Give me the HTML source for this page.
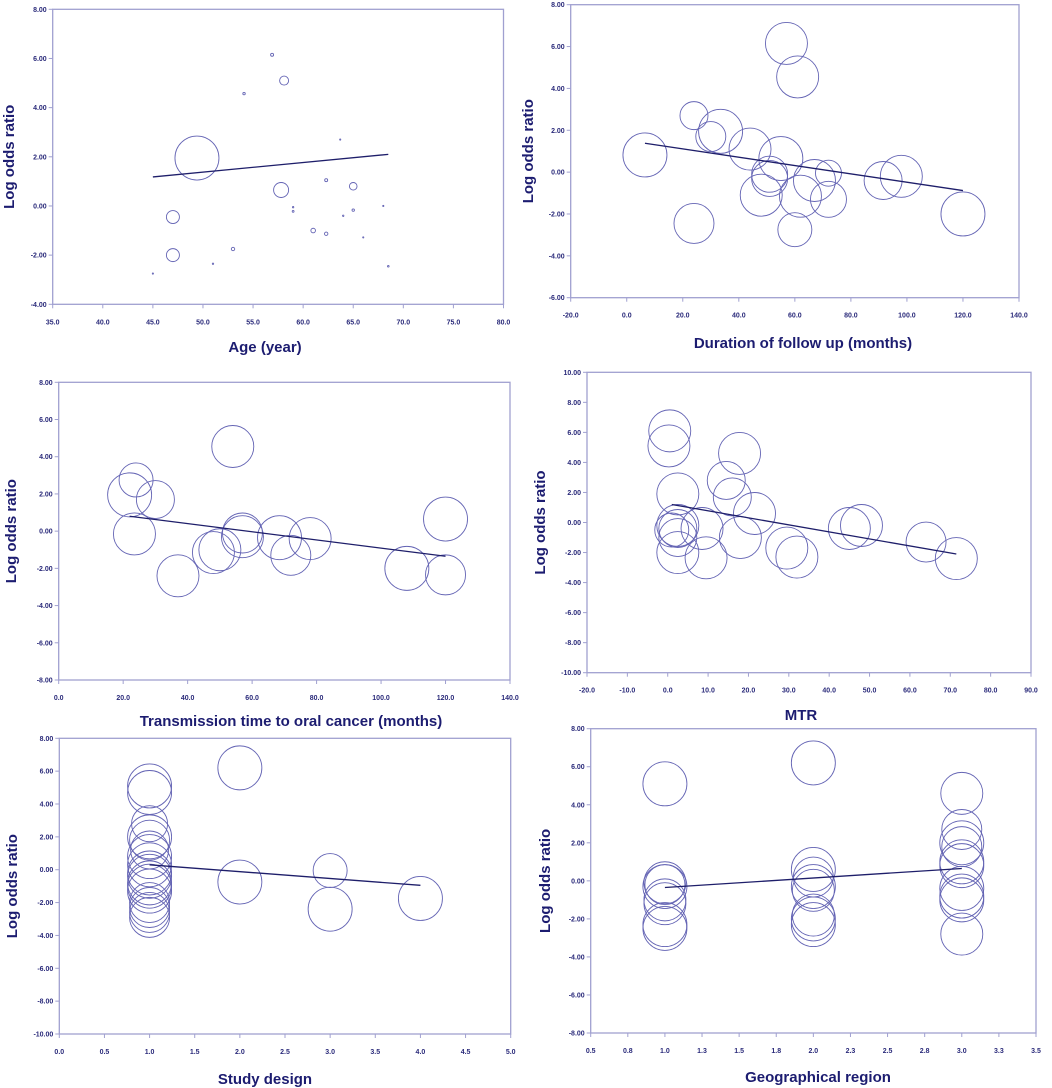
<!DOCTYPE html>
<html><head><meta charset="utf-8">
<style>
html,body{margin:0;padding:0;background:#fff;}
svg{display:block;font-family:"Liberation Sans",Arial,sans-serif;}
.tick{font-size:7px;font-weight:bold;fill:#2a2a7a;}
.ttl{font-size:15px;font-weight:bold;fill:#1c1c70;}
</style></head>
<body>
<svg id="chart" width="1052" height="1088" viewBox="0 0 1052 1088"></svg>
<script>
// Panel 1: Age
const p1X=[45,47,47,49.4,51,53,54.1,56.9,58.1,57.8,59,59,61,62.3,62.3,63.7,64,65,65,66,68,68.5];
const p1Y=[-2.75,-0.45,-2.0,1.95,-2.35,-1.75,4.57,6.15,5.1,0.65,-0.05,-0.22,-1.0,1.05,-1.13,2.7,-0.4,0.8,-0.17,-1.28,0.0,-2.45];
const p1R=[0.5,6.5,6.5,22,0.7,1.7,1.2,1.5,4.5,7.5,0.7,0.9,2.3,1.5,1.7,0.3,0.7,3.8,1.2,0.6,0.3,0.8];
const p1Line=[45,1.18,68.5,2.1];
const p1XTicks=["35.0","40.0","45.0","50.0","55.0","60.0","65.0","70.0","75.0","80.0"];
const p1YTicks=["-4.00","-2.00","0.00","2.00","4.00","6.00","8.00"];
// Panel 2: Duration of follow up
const p2X=[6.5,24,24,30,33.5,44,48,51,51,55,57,61,60,62,67,72,72,91.5,98,120];
const p2Y=[0.82,2.7,-2.45,1.7,1.95,1.1,-1.1,-0.1,-0.3,0.65,6.15,4.55,-2.75,-1.15,-0.4,-0.05,-1.3,-0.4,-0.2,-2.0];
const p2R=[22,14,20,15,22,21,21,18,18,22,21,21,17,21,21,13,18,19,21,22];
const p2Line=[6.5,1.38,120,-0.88];
const p2XTicks=["-20.0","0.0","20.0","40.0","60.0","80.0","100.0","120.0","140.0"];
const p2YTicks=["-6.00","-4.00","-2.00","0.00","2.00","4.00","6.00","8.00"];
// Panel 3: Transmission time
const p3X=[22,24,23.5,30,37,48,50,54,57,57,68.5,72,78,108,120,120];
const p3Y=[1.95,2.75,-0.15,1.7,-2.4,-1.15,-1.0,4.55,-0.1,-0.3,-0.35,-1.3,-0.4,-2.0,0.65,-2.35];
const p3R=[22,17,21,19,21,21,21,21,20,21,22,20,21,22,22,20];
const p3Line=[22,0.8,120,-1.35];
const p3XTicks=["0.0","20.0","40.0","60.0","80.0","100.0","120.0","140.0"];
const p3YTicks=["-8.00","-6.00","-4.00","-2.00","0.00","2.00","4.00","6.00","8.00"];
// Panel 4: MTR
const p4X=[0.5,0.3,2.5,2.5,2.5,2.5,2.5,1,14.5,16,17.8,8.5,9.5,18,21.5,29.5,32,45,48,64,71.5];
const p4Y=[6.1,5.1,1.9,-0.2,-0.4,-1.0,-2.0,-0.5,2.8,1.7,4.6,-0.4,-2.35,-1.0,0.6,-1.7,-2.3,-0.4,-0.2,-1.3,-2.4];
const p4R=[21,21,21,21,19,19,21,17,19,19,21,21,21,21,21,21,21,21,21,20,21];
const p4Line=[1,1.2,71.5,-2.1];
const p4XTicks=["-20.0","-10.0","0.0","10.0","20.0","30.0","40.0","50.0","60.0","70.0","80.0","90.0"];
const p4YTicks=["-10.00","-8.00","-6.00","-4.00","-2.00","0.00","2.00","4.00","6.00","8.00","10.00"];
// Panel 5: Study design
const p5X=[1,1,1,1,1,1,1,1,1,1,1,1,1,1,1,1,1,2,2,3,3,4];
const p5Y=[5.1,4.7,2.8,2.0,1.8,1.2,0.8,0.3,-0.2,-0.4,-0.8,-1.0,-1.3,-2.0,-2.3,-2.6,-2.9,6.2,-0.75,-0.05,-2.4,-1.75];
const p5R=[22,22,18,22,20,19,22,22,22,22,22,22,22,20,20,20,20,22,22,17,22,22];
const p5Line=[1,0.3,4,-0.95];
const p5XTicks=["0.0","0.5","1.0","1.5","2.0","2.5","3.0","3.5","4.0","4.5","5.0"];
const p5YTicks=["-10.00","-8.00","-6.00","-4.00","-2.00","0.00","2.00","4.00","6.00","8.00"];
// Panel 6: Geographical region
const p6X=[1,1,1,1,1,1,1,1,2,2,2,2,2,2,2,2,3,3,3,3,3,3,3,3,3,3];
const p6Y=[5.1,-0.2,-0.3,-0.1,-1.0,-1.2,-2.3,-2.5,6.2,0.6,0.2,-0.3,-0.5,-1.8,-2.0,-2.3,4.6,2.7,2.0,1.8,1.0,0.8,-0.4,-0.8,-1.0,-2.8];
const p6R=[22,20,22,21,21,21,22,22,22,22,20,22,21,21,22,22,21,20,22,20,22,22,22,22,22,21];
const p6Line=[1,-0.35,3,0.65];
const p6XTicks=["0.5","0.8","1.0","1.3","1.5","1.8","2.0","2.3","2.5","2.8","3.0","3.3","3.5"];
const p6YTicks=["-8.00","-6.00","-4.00","-2.00","0.00","2.00","4.00","6.00","8.00"];

const NS="http://www.w3.org/2000/svg";
const svg=document.getElementById('chart');
function mk(tag,attrs,parent){const e=document.createElementNS(NS,tag);for(const k in attrs)e.setAttribute(k,attrs[k]);(parent||svg).appendChild(e);return e;}

function panel(id,cfg,X,Y,R,L,xt,yt){
  const g=mk('g',{});
  
  
  const xs=v=>cfg.x0+(v-cfg.xmin)/(cfg.xmax-cfg.xmin)*(cfg.x1-cfg.x0);
  const ys=v=>cfg.y0+(cfg.ymax-v)/(cfg.ymax-cfg.ymin)*(cfg.y1-cfg.y0);
  const frame=mk('rect',{x:cfg.x0,y:cfg.y0,width:cfg.x1-cfg.x0,height:cfg.y1-cfg.y0,fill:'none',stroke:'#a0a0d0','stroke-width':1.3},g);
  
  
  const n=xt.length-1;
  xt.forEach((t,i)=>{
    const px=cfg.x0+i/n*(cfg.x1-cfg.x0);
    mk('line',{x1:px,x2:px,y1:cfg.y1,y2:cfg.y1+4,stroke:'#a0a0d0','stroke-width':1},g);
    const tx=mk('text',{x:px,y:cfg.y1+20,'text-anchor':'middle',class:'tick'},g);
    tx.textContent=t;
    
    
  });
  const m=yt.length-1;
  yt.forEach((t,i)=>{
    const py=cfg.y1-i/m*(cfg.y1-cfg.y0);
    mk('line',{x1:cfg.x0-4,x2:cfg.x0,y1:py,y2:py,stroke:'#a0a0d0','stroke-width':1},g);
    const tx=mk('text',{x:cfg.x0-6,y:py+2.5,'text-anchor':'end',class:'tick'},g);
    tx.textContent=t;
    
    
  });
  X.forEach((v,i)=>{
    const c=mk('circle',{cx:xs(v),cy:ys(Y[i]),r:Math.max(R[i],0.6),fill:'none',stroke:'#6464b4','stroke-width':0.9},g);
    
    
  });
  const ln=mk('line',{x1:xs(L[0]),y1:ys(L[1]),x2:xs(L[2]),y2:ys(L[3]),stroke:'#1e1e6a','stroke-width':1.3},g);
  
  
  const xtl=mk('text',{x:cfg.xtx,y:cfg.xty,'text-anchor':'middle',class:'ttl'},g);
  xtl.textContent=cfg.xtitle;
  
  
  const cy=(cfg.y0+cfg.y1)/2;
  const ytl=mk('text',{x:cfg.ytx,y:cy,'text-anchor':'middle',class:'ttl',transform:'rotate(-90 '+cfg.ytx+' '+cy+')'},g);
  ytl.textContent='Log odds ratio';
  
  
}

panel('age',{x0:52.7,x1:503.5,y0:9.3,y1:304.3,xmin:35,xmax:80,ymin:-4,ymax:8,xtitle:'Age (year)',xtx:265,xty:352,ytx:14},p1X,p1Y,p1R,p1Line,p1XTicks,p1YTicks);
panel('follow-up',{x0:570.7,x1:1019,y0:4.7,y1:297.7,xmin:-20,xmax:140,ymin:-6,ymax:8,xtitle:'Duration of follow up (months)',xtx:803,xty:348,ytx:533},p2X,p2Y,p2R,p2Line,p2XTicks,p2YTicks);
panel('transmission',{x0:58.7,x1:510,y0:382.3,y1:680,xmin:0,xmax:140,ymin:-8,ymax:8,xtitle:'Transmission time to oral cancer (months)',xtx:291,xty:726,ytx:16},p3X,p3Y,p3R,p3Line,p3XTicks,p3YTicks);
panel('mtr',{x0:587,x1:1031,y0:372.3,y1:672.7,xmin:-20,xmax:90,ymin:-10,ymax:10,xtitle:'MTR',xtx:801,xty:720,ytx:545},p4X,p4Y,p4R,p4Line,p4XTicks,p4YTicks);
panel('study-design',{x0:59.3,x1:510.7,y0:738.3,y1:1034,xmin:0,xmax:5,ymin:-10,ymax:8,xtitle:'Study design',xtx:265,xty:1084,ytx:17},p5X,p5Y,p5R,p5Line,p5XTicks,p5YTicks);
panel('geographical-region',{x0:590.7,x1:1036,y0:728.7,y1:1033,xmin:0.5,xmax:3.5,ymin:-8,ymax:8,xtitle:'Geographical region',xtx:818,xty:1082,ytx:550},p6X,p6Y,p6R,p6Line,p6XTicks,p6YTicks);
</script>
</body></html>
